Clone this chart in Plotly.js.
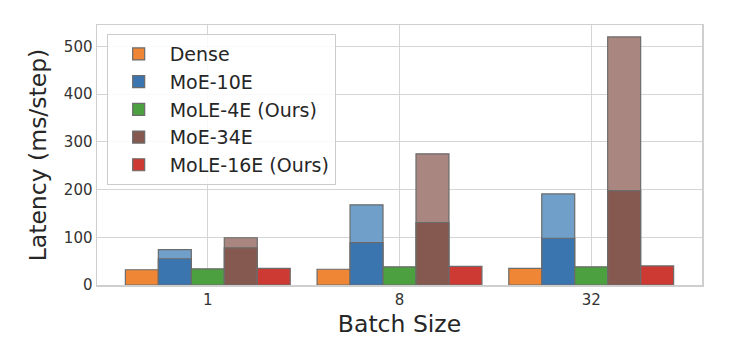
<!DOCTYPE html>
<html><head><meta charset="utf-8">
<script src="https://cdn.plot.ly/plotly-3.0.1.min.js"></script>
<style>html,body{margin:0;padding:0;background:#fff}</style>
</head><body><div id="chart" style="width:748px;height:352px"></div>
<script>
const batchSizes = ['1', '8', '32'];
const dense = [32, 33, 35];
const moe10Total = [74, 168, 191];
const moe10Part = [55, 89, 98];
const mole4 = [34, 38, 38];
const moe34Total = [99, 275, 520];
const moe34Part = [78, 131, 198];
const mole16 = [35, 39, 40];

const xs = batchSizes.map((_, i) => i);
const W = 0.172;
const off = k => -2.5 * W + k * W;
const font = 'DejaVu Sans, sans-serif';
const edge = {color: '#6b6b6b', width: 1.2};

function bar(name, y, color, k, show) {
  return {type: 'bar', name: name, x: xs, y: y, width: W, offset: off(k),
    legendgroup: name,
    marker: {color: color, line: edge}, showlegend: show, hoverinfo: 'y'};
}

const data = [
  bar('MoE-10E total', moe10Total, '#70a0ca', 1, false),
  bar('MoE-34E total', moe34Total, '#a98780', 3, false),
  bar('Dense', dense, '#ee8636', 0, true),
  bar('MoE-10E', moe10Part, '#3a75b0', 1, true),
  bar('MoLE-4E (Ours)', mole4, '#4ca040', 2, true),
  bar('MoE-34E', moe34Part, '#855950', 3, true),
  bar('MoLE-16E (Ours)', mole16, '#cc3a33', 4, true)
];

const layout = {
  width: 748, height: 352,
  margin: {l: 97, r: 46, t: 25, b: 67},
  barmode: 'overlay',
  paper_bgcolor: '#fff', plot_bgcolor: '#fff',
  font: {family: font, color: '#333'},
  xaxis: {
    tickvals: xs, ticktext: batchSizes, range: [-0.578, 2.578],
    showgrid: true, gridcolor: '#d5d5d5', gridwidth: 1,
    zeroline: false, showline: true, mirror: true, linecolor: '#cfcfcf', linewidth: 1.5,
    ticks: '', tickfont: {size: 15, color: '#333'},
    title: {text: 'Batch Size', font: {size: 23.5, color: '#262626'}, standoff: 8}
  },
  yaxis: {
    range: [0, 545], tickvals: [0, 100, 200, 300, 400, 500],
    showgrid: true, gridcolor: '#d5d5d5', gridwidth: 1,
    zeroline: false, showline: true, mirror: true, linecolor: '#cfcfcf', linewidth: 1.5,
    ticks: '', tickfont: {size: 15, color: '#333'},
    title: {text: 'Latency (ms/step)', font: {size: 23.5, color: '#262626'}, standoff: 10}
  },
  legend: {
    x: 0.016, y: 0.965, xanchor: 'left', yanchor: 'top',
    bgcolor: 'rgba(255,255,255,0.85)', bordercolor: '#cccccc', borderwidth: 1,
    font: {size: 19, color: '#262626', family: font},
    traceorder: 'grouped', tracegroupgap: 0, itemwidth: 52
  }
};

Plotly.newPlot('chart', data, layout, {displayModeBar: false, staticPlot: true});
</script></body></html>
